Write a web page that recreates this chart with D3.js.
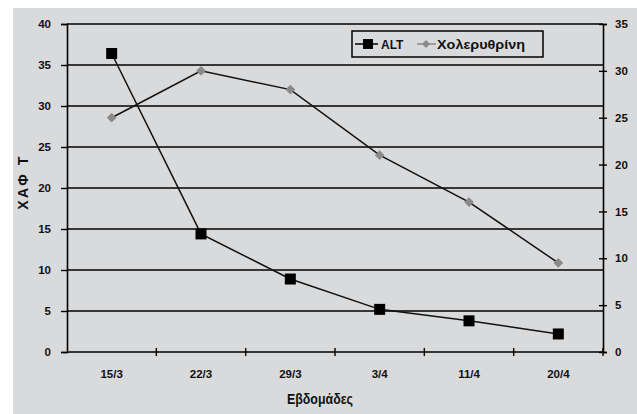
<html>
<head>
<script src="https://d3js.org/d3.v7.min.js"></script>
<style>
body { margin: 0; background: #fff; }
text { font-family: "Liberation Sans", Arial, sans-serif; font-weight: bold; fill: #111; }
</style>
</head>
<body>
<div id="chart"></div>
<script>
var weeks = ["15/3", "22/3", "29/3", "3/4", "11/4", "20/4"];
var alt = [36.4, 14.4, 8.9, 5.2, 3.8, 2.2];
var bilirubin = [25, 30, 28, 21, 16, 9.5];
var leftTicks = [0, 5, 10, 15, 20, 25, 30, 35, 40];
var rightTicks = [0, 5, 10, 15, 20, 25, 30, 35];

var W = 637, H = 414;
var m = {left: 67, right: 34, top: 24, bottom: 62};

var svg = d3.select("#chart").append("svg")
    .attr("width", W).attr("height", H);

// grey panel
svg.append("rect").attr("x", 13).attr("y", 8)
    .attr("width", W - 13).attr("height", H - 8)
    .attr("fill", "#d9dadc");

var x = d3.scaleBand().domain(weeks).range([m.left, W - m.right]);
var yL = d3.scaleLinear().domain([0, 40]).range([H - m.bottom, m.top]);
var yR = d3.scaleLinear().domain([0, 35]).range([H - m.bottom, m.top]);

// gridlines
svg.append("g").selectAll("line").data(leftTicks.slice(1)).enter().append("line")
    .attr("x1", m.left).attr("x2", W - m.right)
    .attr("y1", function(d) { return yL(d); })
    .attr("y2", function(d) { return yL(d); })
    .attr("stroke", "#000").attr("stroke-width", 1.4);

// left axis
var gL = svg.append("g").attr("transform", "translate(" + m.left + ",0)")
    .call(d3.axisLeft(yL).tickValues(leftTicks).tickSize(6).tickPadding(10));
// right axis
var gR = svg.append("g").attr("transform", "translate(" + (W - m.right) + ",0)")
    .call(d3.axisRight(yR).tickValues(rightTicks).tickSize(4).tickPadding(8));
gR.selectAll(".tick line").attr("x1", -4);
// bottom axis: ticks at band edges
var gB = svg.append("g").attr("transform", "translate(0," + (H - m.bottom) + ")")
    .call(d3.axisBottom(x).tickSize(0).tickPadding(18));
gB.selectAll(".edge").data(weeks).enter().append("line")
    .attr("class", "edge")
    .attr("x1", function(d) { return x(d) + x.bandwidth(); })
    .attr("x2", function(d) { return x(d) + x.bandwidth(); })
    .attr("y1", -4).attr("y2", 4)
    .attr("stroke", "#000").attr("stroke-width", 1.4);

[gL, gR, gB].forEach(function(g) {
    g.select(".domain").attr("stroke", "#000").attr("stroke-width", 1.6);
    g.selectAll(".tick line").attr("stroke", "#000").attr("stroke-width", 1.4);
    g.selectAll("text").style("font-size", "11.5px").attr("fill", "#111");
});
gB.select(".domain").attr("d", "M" + m.left + ",0H" + (W - m.right));

// lines
var cx = function(d, i) { return x(weeks[i]) + x.bandwidth() / 2; };
svg.append("path").datum(bilirubin)
    .attr("d", d3.line().x(cx).y(function(d) { return yR(d); }))
    .attr("fill", "none").attr("stroke", "#111").attr("stroke-width", 1.5);
svg.append("path").datum(alt)
    .attr("d", d3.line().x(cx).y(function(d) { return yL(d); }))
    .attr("fill", "none").attr("stroke", "#111").attr("stroke-width", 1.5);

var diamond = d3.symbol().type(d3.symbolDiamond2).size(60);
svg.append("g").selectAll("path").data(bilirubin).enter().append("path")
    .attr("d", diamond)
    .attr("transform", function(d, i) { return "translate(" + cx(d, i) + "," + yR(d) + ")"; })
    .attr("fill", "#8a8a8a");

svg.append("g").selectAll("rect").data(alt).enter().append("rect")
    .attr("x", function(d, i) { return cx(d, i) - 5.5; })
    .attr("y", function(d) { return yL(d) - 5.5; })
    .attr("width", 11).attr("height", 11)
    .attr("fill", "#000");

// legend
var lg = svg.append("g").attr("transform", "translate(352,31)");
lg.append("rect").attr("width", 191).attr("height", 26)
    .attr("fill", "none").attr("stroke", "#000").attr("stroke-width", 1.5);
lg.append("line").attr("x1", 3).attr("x2", 26).attr("y1", 13).attr("y2", 13)
    .attr("stroke", "#000").attr("stroke-width", 1.5);
lg.append("rect").attr("x", 11).attr("y", 8).attr("width", 10).attr("height", 10).attr("fill", "#000");
lg.append("text").attr("x", 29).attr("y", 17.5).style("font-size", "12px").text("ALT");
lg.append("line").attr("x1", 65).attr("x2", 84).attr("y1", 13).attr("y2", 13)
    .attr("stroke", "#888").attr("stroke-width", 1.5);
lg.append("path").attr("d", d3.symbol().type(d3.symbolDiamond2).size(40))
    .attr("transform", "translate(74,13)").attr("fill", "#8a8a8a");
lg.append("text").attr("x", 85).attr("y", 17.5).style("font-size", "12px")
    .attr("textLength", 88).attr("lengthAdjust", "spacingAndGlyphs").text("Χολερυθρίνη");

// axis titles
svg.append("text").attr("x", 320).attr("y", 404).attr("text-anchor", "middle")
    .style("font-size", "14px").attr("textLength", 66).attr("lengthAdjust", "spacingAndGlyphs")
    .text("Εβδομάδες");
svg.append("text").attr("transform", "translate(28,182) rotate(-90)")
    .attr("text-anchor", "middle").style("font-size", "14px")
    .style("letter-spacing", "2.5px").text("ΧΑΦ Τ");
</script>
</body>
</html>
